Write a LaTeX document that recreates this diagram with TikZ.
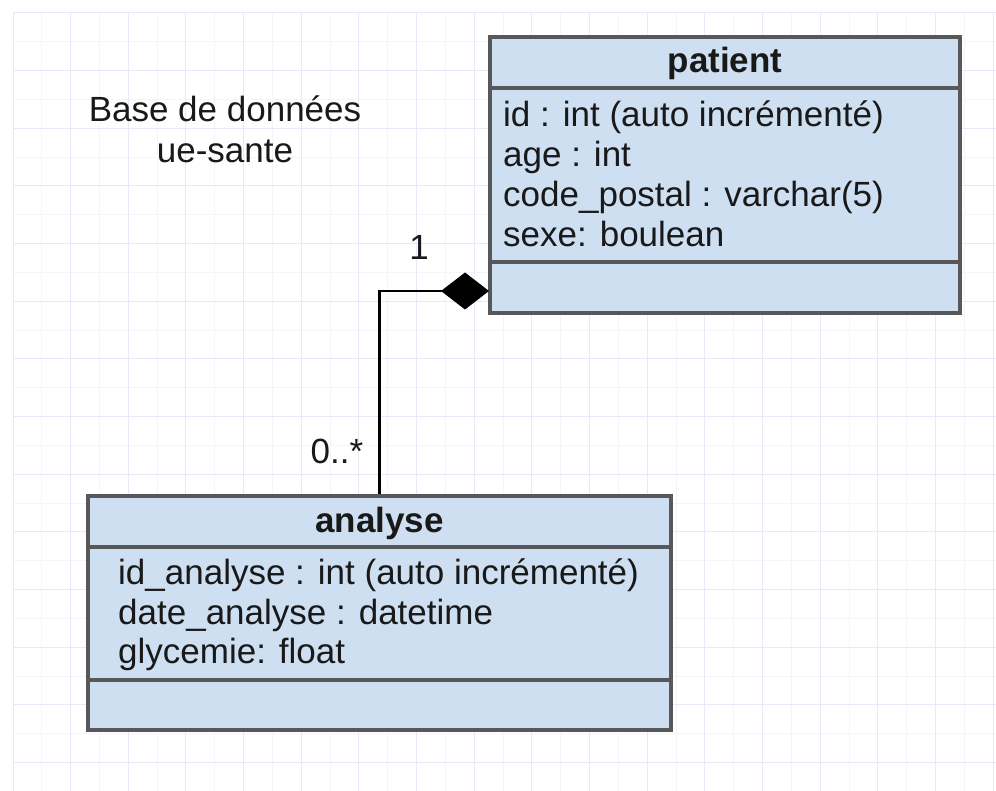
\documentclass[tikz,border=0pt]{standalone}
\usepackage{fontspec}
\setmainfont{Liberation Sans}
\usetikzlibrary{arrows.meta}

\definecolor{umlfill}{RGB}{206,223,241}
\definecolor{umledge}{RGB}{88,88,90}
\definecolor{gridmajor}{RGB}{232,232,247}
\definecolor{gridminor}{RGB}{244,244,251}
\definecolor{ink}{RGB}{25,25,25}

\begin{document}
\begin{tikzpicture}[x=1pt,y=-1pt,
  classbox/.style={draw=umledge, fill=umlfill, line width=3.5pt, rectangle, inner sep=0pt},
  sepline/.style={draw=umledge, line width=3.5pt},
  attr/.style={anchor=base west, inner sep=0pt, text=ink, font=\fontsize{35}{40}\selectfont},
  classtitle/.style={anchor=base, inner sep=0pt, text=ink, font=\fontsize{35}{40}\selectfont\bfseries},
  lbl/.style={anchor=base, inner sep=0pt, text=ink, font=\fontsize{35}{40}\selectfont},
  assoc/.style={draw=black, line width=2.5pt, {Diamond[length=48pt,width=37pt]}-}]

\useasboundingbox (0,0) rectangle (996,791);
\fill[white] (0,0) rectangle (996,791);

% background grid: faint minor lines, slightly stronger major lines
\foreach \k in {0,...,34} \draw[gridminor, line width=1pt] ({13+28.83*\k},13) -- ({13+28.83*\k},791);
\foreach \k in {0,...,26} \draw[gridminor, line width=1pt] (13,{13+28.83*\k}) -- (996,{13+28.83*\k});
\foreach \k in {0,...,17} \draw[gridmajor, line width=1pt] ({13+57.66*\k},13) -- ({13+57.66*\k},791);
\foreach \k in {0,...,13} \draw[gridmajor, line width=1pt] (13,{13+57.66*\k}) -- (996,{13+57.66*\k});

% database name
\node[lbl] (dbname1) at (225,122) {Base de données};
\node[lbl] (dbname2) at (225,163) {ue-sante};

% class patient
\node[classbox, minimum width=470pt, minimum height=276pt] (patient) at (725,175) {};
\draw[sepline] (patient.west |- 0,88) -- (patient.east |- 0,88);
\draw[sepline] (patient.west |- 0,262) -- (patient.east |- 0,262);
\node[classtitle] (ptitle) at (725,73) {patient};
\node[attr] (pa1) at (503,127) {id : int (auto incrémenté)};
\node[attr] (pa2) at (503,167) {age : int};
\node[attr] (pa3) at (503,207) {code\_postal : varchar(5)};
\node[attr] (pa4) at (503,247) {sexe: boulean};

% class analyse
\node[classbox, minimum width=583pt, minimum height=234pt] (analyse) at (379.5,613) {};
\draw[sepline] (analyse.west |- 0,547) -- (analyse.east |- 0,547);
\draw[sepline] (analyse.west |- 0,680) -- (analyse.east |- 0,680);
\node[classtitle] (atitle) at (379.5,532) {analyse};
\node[attr] (aa1) at (118,584) {id\_analyse : int (auto incrémenté)};
\node[attr] (aa2) at (118,624) {date\_analyse : datetime};
\node[attr] (aa3) at (118,663) {glycemie: float};

% composition: patient 1 -- 0..* analyse
\coordinate (pjoin) at (489,291);
\draw[assoc] (pjoin) -| (analyse.north);
\node[lbl] (mult1) at (419,260) {1};
\node[lbl] (mult2) at (337,463) {0..*};
\end{tikzpicture}
\end{document}
